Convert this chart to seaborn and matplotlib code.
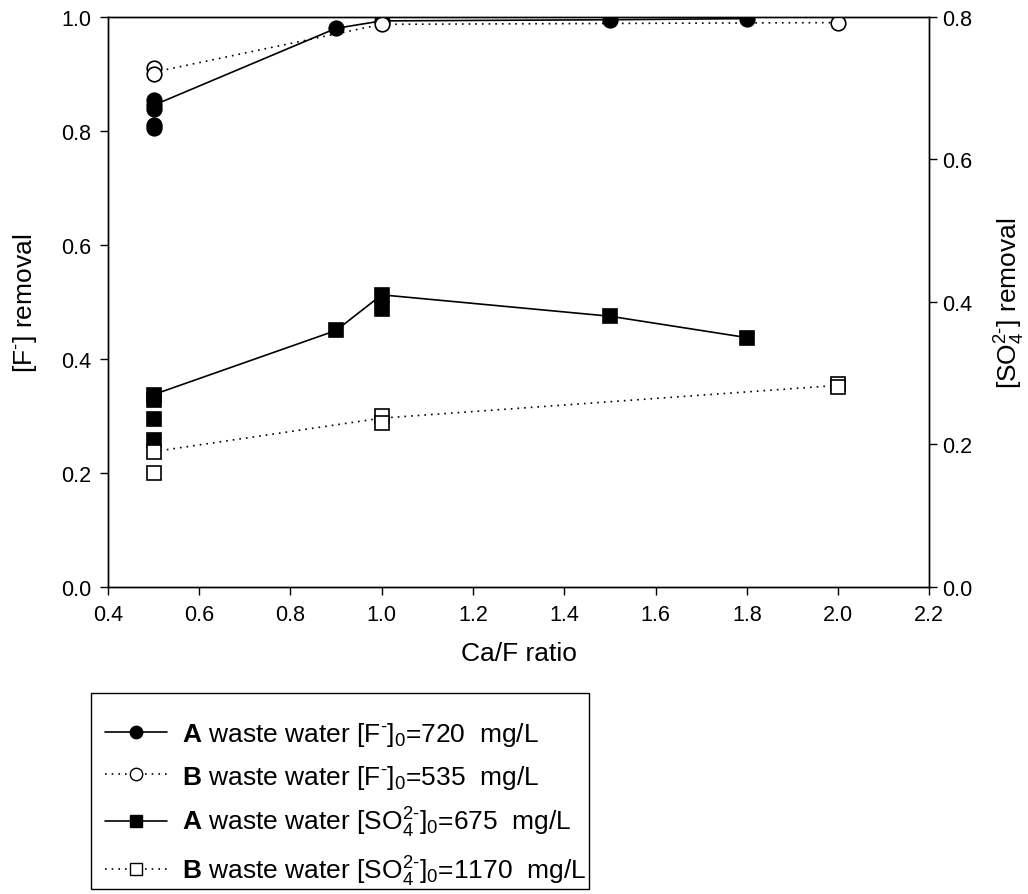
import numpy as np
import pandas as pd
import matplotlib
matplotlib.use("Agg")
import matplotlib.pyplot as plt
import seaborn as sns
from matplotlib.lines import Line2D
from matplotlib.patches import Rectangle
from matplotlib.ticker import FormatStrFormatter

sns.set_theme(style="white")
plt.rcParams['font.family'] = ['Liberation Sans', 'DejaVu Sans']
plt.rcParams['mathtext.fontset'] = 'custom'
plt.rcParams['mathtext.rm'] = 'Liberation Sans'
plt.rcParams['mathtext.bf'] = 'Liberation Sans:bold'
plt.rcParams['mathtext.it'] = 'Liberation Sans:italic'
plt.rcParams['text.color'] = 'black'
plt.rcParams['axes.labelcolor'] = 'black'
plt.rcParams['xtick.color'] = 'black'
plt.rcParams['ytick.color'] = 'black'

# ---- data ----
# A waste water fluoride removal (left axis)
aF_x_pts = [0.5, 0.5, 0.5, 0.5, 0.5, 0.9, 1.0, 1.5, 1.8]
aF_y_pts = [0.855, 0.845, 0.838, 0.81, 0.805, 0.98, 0.993, 0.995, 0.997]
aF_x_line = [0.5, 0.9, 1.0, 1.5, 1.8]
aF_y_line = [0.845, 0.98, 0.993, 0.995, 0.997]

# B waste water fluoride removal (left axis)
bF_x_pts = [0.5, 0.5, 1.0, 2.0]
bF_y_pts = [0.91, 0.90, 0.987, 0.99]
bF_x_line = [0.5, 1.0, 2.0]
bF_y_line = [0.903, 0.987, 0.99]

# A waste water sulfate removal (right axis)
aS_x_pts = [0.5, 0.5, 0.5, 0.5, 0.9, 1.0, 1.0, 1.5, 1.8]
aS_y_pts = [0.270, 0.262, 0.236, 0.206, 0.36, 0.41, 0.39, 0.38, 0.35]
aS_x_line = [0.5, 0.9, 1.0, 1.5, 1.8]
aS_y_line = [0.270, 0.36, 0.41, 0.38, 0.35]

# B waste water sulfate removal (right axis)
bS_x_pts = [0.5, 0.5, 1.0, 1.0, 2.0, 2.0]
bS_y_pts = [0.19, 0.16, 0.24, 0.23, 0.285, 0.28]
bS_x_line = [0.5, 1.0, 2.0]
bS_y_line = [0.19, 0.237, 0.283]

x_ticks = [0.4, 0.6, 0.8, 1.0, 1.2, 1.4, 1.6, 1.8, 2.0, 2.2]
left_ticks = [0.0, 0.2, 0.4, 0.6, 0.8, 1.0]
right_ticks = [0.0, 0.2, 0.4, 0.6, 0.8]

labels = [
    r'$\mathbf{A}$ waste water [F$^{\text{-}}$]$_0$=720  mg/L',
    r'$\mathbf{B}$ waste water [F$^{\text{-}}$]$_0$=535  mg/L',
    r'$\mathbf{A}$ waste water [SO$_4^{\text{2-}}$]$_0$=675  mg/L',
    r'$\mathbf{B}$ waste water [SO$_4^{\text{2-}}$]$_0$=1170  mg/L',
]

# ---- figure ----
fig = plt.figure(figsize=(10.28, 8.95), dpi=100)
ax = fig.add_axes([0.105, 0.343, 0.799, 0.637])
ax2 = ax.twinx()

dotted = (0, (1, 3))
lw = 1.2
ms_c = 10.5
ms_s = 10

sns.lineplot(x=aF_x_line, y=aF_y_line, ax=ax, color='black', lw=lw, estimator=None, sort=False)
sns.lineplot(x=bF_x_line, y=bF_y_line, ax=ax, color='black', lw=lw, linestyle=dotted, estimator=None, sort=False)
ax.plot(aF_x_pts, aF_y_pts, linestyle='none', marker='o', ms=ms_c, mfc='black', mec='black', mew=1.2, zorder=3)
ax.plot(bF_x_pts, bF_y_pts, linestyle='none', marker='o', ms=ms_c, mfc='white', mec='black', mew=1.2, zorder=4)

sns.lineplot(x=aS_x_line, y=aS_y_line, ax=ax2, color='black', lw=lw, estimator=None, sort=False)
sns.lineplot(x=bS_x_line, y=bS_y_line, ax=ax2, color='black', lw=lw, linestyle=dotted, estimator=None, sort=False)
ax2.plot(aS_x_pts, aS_y_pts, linestyle='none', marker='s', ms=ms_s, mfc='black', mec='black', mew=1.2, zorder=3)
ax2.plot(bS_x_pts, bS_y_pts, linestyle='none', marker='s', ms=ms_s, mfc='white', mec='black', mew=1.2, zorder=4)

ax.set_xlim(0.4, 2.2)
ax.set_ylim(0.0, 1.0)
ax2.set_ylim(0.0, 0.8)
ax.set_xticks(x_ticks)
ax.set_yticks(left_ticks)
ax2.set_yticks(right_ticks)
ax.xaxis.set_major_formatter(FormatStrFormatter('%.1f'))
ax.yaxis.set_major_formatter(FormatStrFormatter('%.1f'))
ax2.yaxis.set_major_formatter(FormatStrFormatter('%.1f'))

fs_tick = 15.5
fs_lab = 19
for a in (ax, ax2):
    for s in a.spines.values():
        s.set_color('black')
        s.set_linewidth(1.0)
    a.tick_params(direction='out', length=6, width=1.0, color='black', labelsize=fs_tick, labelcolor='black')
ax.tick_params(axis='x', bottom=True, top=False, pad=6)
ax.tick_params(axis='y', left=True, right=False, pad=6)
ax2.tick_params(axis='y', right=True, left=False, pad=3)

ax.set_xlabel('Ca/F ratio', fontsize=fs_lab, labelpad=12, color='black')
ax.set_ylabel(r'[F$^{\text{-}}$] removal', fontsize=fs_lab, labelpad=16, color='black')
ax2.set_ylabel(r'[SO$_4^{\text{2-}}$] removal', fontsize=fs_lab, labelpad=15, color='black')

handles = [
    Line2D([], [], color='black', lw=lw, marker='o', ms=ms_c * 0.85, mfc='black', mec='black'),
    Line2D([], [], color='black', lw=lw, linestyle=dotted, marker='o', ms=ms_c * 0.85, mfc='white', mec='black'),
    Line2D([], [], color='black', lw=lw, marker='s', ms=ms_s * 0.85, mfc='black', mec='black'),
    Line2D([], [], color='black', lw=lw, linestyle=dotted, marker='s', ms=ms_s * 0.85, mfc='white', mec='black'),
]
leg = fig.legend(handles, labels, loc='upper left', bbox_to_anchor=(0.0837, 0.2156),
                 borderaxespad=0, fontsize=fs_lab, frameon=False,
                 handlelength=2.35, handletextpad=0.57,
                 labelspacing=0.55, borderpad=0.72, numpoints=1)
for t in leg.get_texts():
    t.set_color('black')

# legend frame box
fig.patches.append(Rectangle((91 / 1028, 1 - 890 / 895), 498 / 1028, 196 / 895,
                             transform=fig.transFigure, fill=False, edgecolor='black',
                             linewidth=1.0, zorder=5))

fig.savefig('out.png', dpi=100, facecolor='white')
